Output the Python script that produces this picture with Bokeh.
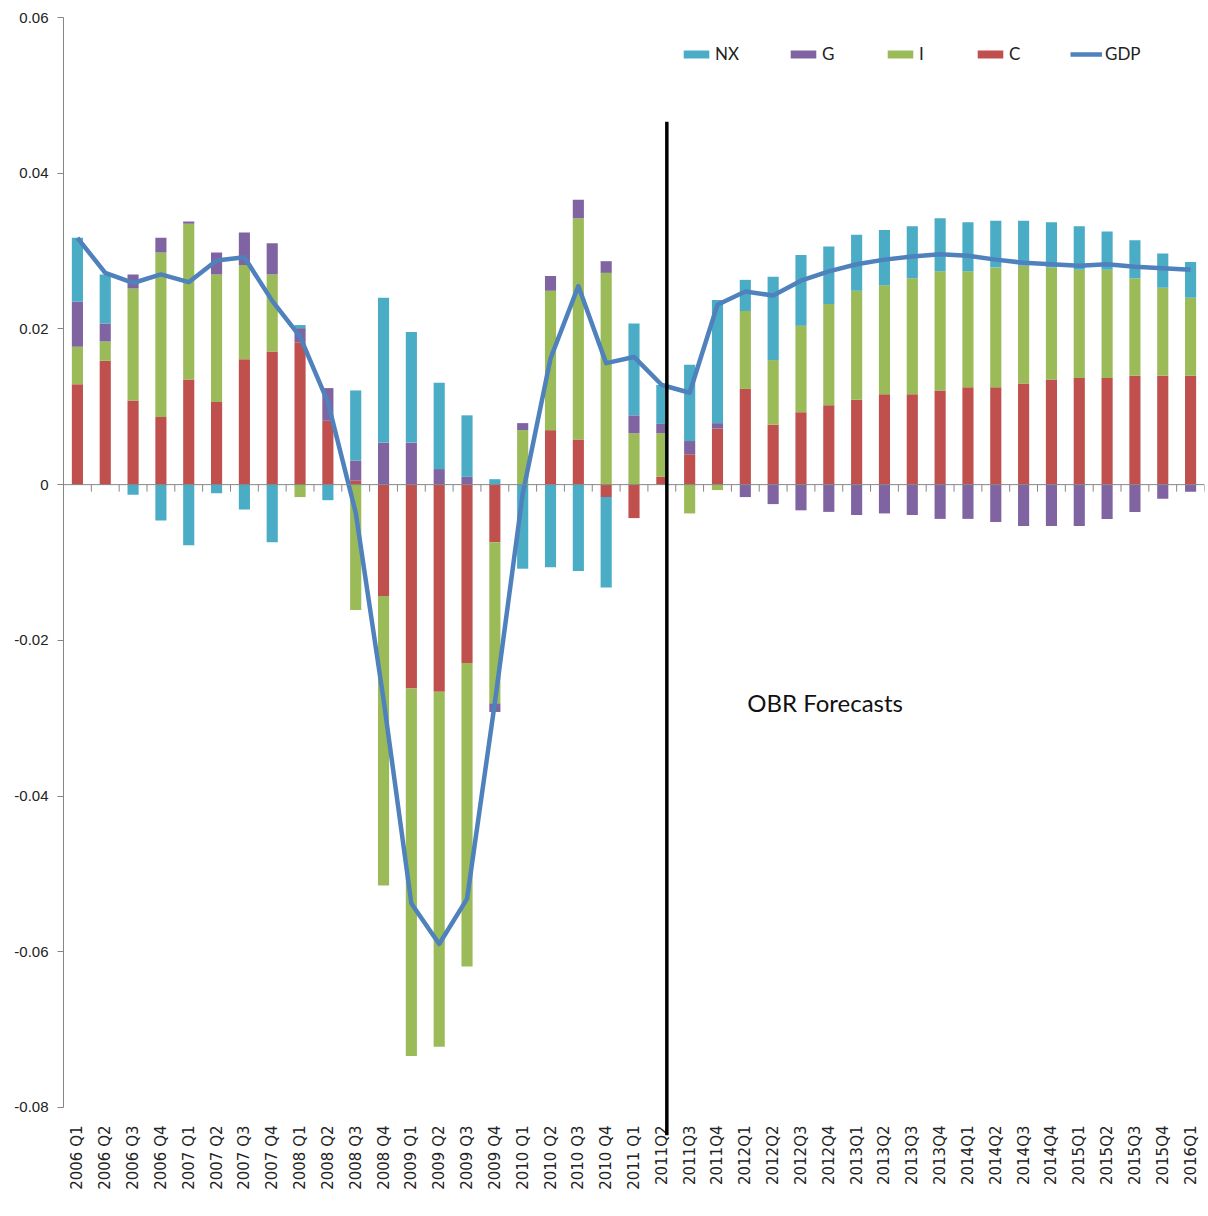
import numpy as np
from bokeh.plotting import figure
from bokeh.models import (Legend, LegendItem, FixedTicker, Span, Arrow, Label,
                          ColumnDataSource)
from bokeh.embed import file_html
from bokeh.resources import INLINE

quarters = ["2006 Q1", "2006 Q2", "2006 Q3", "2006 Q4",
            "2007 Q1", "2007 Q2", "2007 Q3", "2007 Q4",
            "2008 Q1", "2008 Q2", "2008 Q3", "2008 Q4",
            "2009 Q1", "2009 Q2", "2009 Q3", "2009 Q4",
            "2010 Q1", "2010 Q2", "2010 Q3", "2010 Q4",
            "2011 Q1", "2011Q2", "2011Q3", "2011Q4",
            "2012Q1", "2012Q2", "2012Q3", "2012Q4",
            "2013Q1", "2013Q2", "2013Q3", "2013Q4",
            "2014Q1", "2014Q2", "2014Q3", "2014Q4",
            "2015Q1", "2015Q2", "2015Q3", "2015Q4",
            "2016Q1"]

C = [0.0129, 0.0159, 0.0108, 0.0087, 0.0135, 0.0106, 0.0161, 0.0171,
     0.0183, 0.0082, 0.0005, -0.0143, -0.0262, -0.0266, -0.0229, -0.0074,
     0.0000, 0.0070, 0.0058, -0.0016, -0.0043, 0.0010, 0.0039, 0.0072,
     0.0123, 0.0077, 0.0093, 0.0102, 0.0109, 0.0116, 0.0116, 0.0121,
     0.0125, 0.0125, 0.0130, 0.0135, 0.0137, 0.0137, 0.0140, 0.0140,
     0.0140]

I = [0.0048, 0.0025, 0.0144, 0.0211, 0.0200, 0.0164, 0.0121, 0.0099,
     -0.0016, 0.0000, -0.0161, -0.0372, -0.0472, -0.0456, -0.0390, -0.0207,
     0.0070, 0.0179, 0.0284, 0.0272, 0.0066, 0.0056, -0.0037, -0.0007,
     0.0100, 0.0083, 0.0111, 0.0130, 0.0140, 0.0140, 0.0149, 0.0153,
     0.0149, 0.0154, 0.0151, 0.0144, 0.0139, 0.0139, 0.0125, 0.0113,
     0.0100]

G = [0.0058, 0.0023, 0.0018, 0.0019, 0.0003, 0.0028, 0.0042, 0.0040,
     0.0018, 0.0042, 0.0026, 0.0054, 0.0054, 0.0020, 0.0010, -0.0011,
     0.0009, 0.0019, 0.0024, 0.0015, 0.0023, 0.0012, 0.0017, 0.0007,
     -0.0016, -0.0025, -0.0033, -0.0035, -0.0039, -0.0037, -0.0039, -0.0044,
     -0.0044, -0.0048, -0.0053, -0.0053, -0.0053, -0.0044, -0.0035, -0.0018,
     -0.0009]

NX = [0.0082, 0.0063, -0.0013, -0.0046, -0.0078, -0.0011, -0.0032, -0.0074,
      0.0004, -0.0020, 0.0090, 0.0186, 0.0142, 0.0111, 0.0079, 0.0007,
      -0.0108, -0.0106, -0.0111, -0.0116, 0.0118, 0.0050, 0.0098, 0.0158,
      0.0040, 0.0107, 0.0091, 0.0074, 0.0072, 0.0071, 0.0067, 0.0068,
      0.0063, 0.0060, 0.0058, 0.0058, 0.0056, 0.0049, 0.0049, 0.0044,
      0.0046]

GDP = [0.0317, 0.0272, 0.0259, 0.0270, 0.0260, 0.0288, 0.0292, 0.0236,
       0.0190, 0.0106, -0.0036, -0.0276, -0.0538, -0.0590, -0.0532, -0.0280,
       -0.0012, 0.0162, 0.0255, 0.0156, 0.0164, 0.0128, 0.0118, 0.0231,
       0.0248, 0.0243, 0.0262, 0.0274, 0.0283, 0.0289, 0.0293, 0.0296,
       0.0294, 0.0289, 0.0285, 0.0283, 0.0281, 0.0283, 0.0280, 0.0278,
       0.0276]

y_ticks = [0.06, 0.04, 0.02, 0.0, -0.02, -0.04, -0.06, -0.08]
y_tick_labels = ["0.06", "0.04", "0.02", "0", "-0.02", "-0.04", "-0.06", "-0.08"]

forecast_start = "2011Q2"
forecast_label = "OBR Forecasts"

COL = {"NX": "#4BACC6", "G": "#8064A2", "I": "#9BBB59", "C": "#C0504D",
       "GDP": "#4F81BD"}

n = len(quarters)
x = np.arange(n)

p = figure(width=1206, height=1212, output_backend="svg", toolbar_location=None,
           x_range=(-0.5, n - 0.5), y_range=(-0.0836, 0.06),
           min_border_left=63, min_border_top=17, min_border_right=2,
           min_border_bottom=77)
p.outline_line_color = None
p.xgrid.visible = False
p.ygrid.visible = False
p.background_fill_color = "white"

# stacked bars, positives and negatives stacked separately
pos = np.zeros(n)
neg = np.zeros(n)
rend = {}
for name, vals in [("C", C), ("I", I), ("G", G), ("NX", NX)]:
    v = np.array(vals)
    bottom = np.where(v >= 0, pos, neg)
    top = bottom + v
    pos = np.where(v >= 0, top, pos)
    neg = np.where(v < 0, top, neg)
    src = ColumnDataSource(dict(x=x, bottom=bottom, top=top))
    rend[name] = p.vbar(x="x", bottom="bottom", top="top", width=0.4,
                        source=src, fill_color=COL[name], line_color=None)

# horizontal axis line at zero with boundary tick marks
p.add_layout(Span(location=0, dimension="width", line_color="#868686",
                  line_width=1))
bounds = np.arange(n) + 0.5
p.segment(x0=bounds, y0=np.zeros(n), x1=bounds, y1=np.full(n, -0.0009),
          line_color="#868686", line_width=1)

rend["GDP"] = p.line(x, GDP, line_color=COL["GDP"], line_width=4.5,
                     line_join="round")

# forecast separator
xs = quarters.index(forecast_start) + 0.18
p.add_layout(Arrow(end=None, start=None, x_start=xs, y_start=0.0466,
                   x_end=xs, y_end=-0.0836, line_color="black", line_width=3.5))

p.add_layout(Label(x=24.07, y=-0.0299, text=forecast_label, text_font="Lato",
                   text_font_size="24px", text_color="#111111"))

# axes
yax = p.yaxis[0]
yax.ticker = FixedTicker(ticks=y_ticks)
yax.major_label_overrides = {t: l for t, l in zip(y_ticks, y_tick_labels)}
yax.bounds = (-0.08, 0.06)
yax.axis_line_color = "#868686"
yax.major_tick_line_color = "#868686"
yax.major_tick_out = 6
yax.major_tick_in = 0
yax.minor_tick_line_color = None
yax.major_label_standoff = 9
yax.major_label_text_font = "Liberation Sans"
yax.major_label_text_font_size = "15px"
yax.major_label_text_color = "#222222"

xax = p.xaxis[0]
xax.ticker = FixedTicker(ticks=list(range(n)))
xax.major_label_overrides = {i: q for i, q in enumerate(quarters)}
xax.major_label_orientation = np.pi / 2
xax.axis_line_color = None
xax.major_tick_line_color = None
xax.minor_tick_line_color = None
xax.major_tick_out = 0
xax.major_tick_in = 0
xax.major_label_standoff = -10
xax.major_label_text_font = "DejaVu Sans"
xax.major_label_text_font_size = "15px"
xax.major_label_text_color = "#222222"

# legend items placed individually
leg_pos = {"NX": 617, "G": 724, "I": 821, "C": 911, "GDP": 1007}
for name in ["NX", "G", "I", "C", "GDP"]:
    lg = Legend(items=[LegendItem(label=name, renderers=[rend[name]])],
                location=(leg_pos[name], 1071), orientation="horizontal",
                padding=0, margin=0, border_line_color=None,
                background_fill_alpha=0, glyph_width=32, glyph_height=10,
                label_standoff=3, label_text_font="Lato",
                label_text_font_size="17px", label_text_color="#222222")
    p.add_layout(lg, "center")

open("out.html", "w").write(file_html(p, INLINE))
